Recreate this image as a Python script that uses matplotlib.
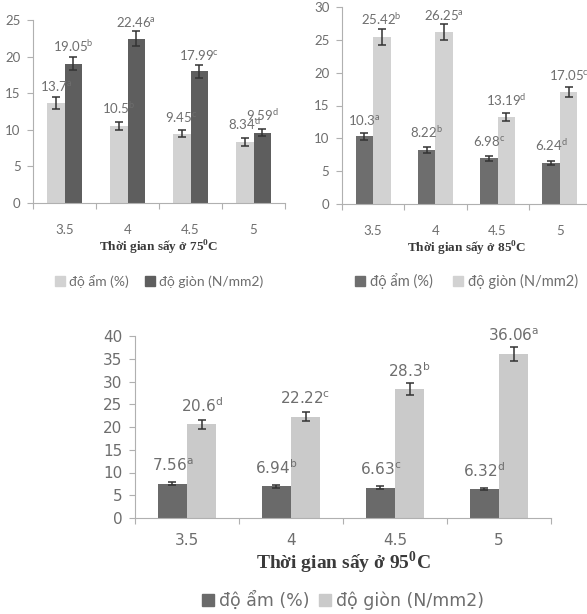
import matplotlib.pyplot as plt
from matplotlib.patches import Patch

# thời gian sấy (h)
times = ['3.5', '4', '4.5', '5']

# 75 oC
am_75 = [13.7, 10.5, 9.45, 8.34]
am_75_err = [0.8, 0.5, 0.5, 0.5]
am_75_sig = ['a', 'b', 'c', 'd']
gion_75 = [19.05, 22.46, 17.99, 9.59]
gion_75_err = [0.9, 1.0, 0.9, 0.5]
gion_75_sig = ['b', 'a', 'c', 'd']

# 85 oC
am_85 = [10.3, 8.22, 6.98, 6.24]
am_85_err = [0.5, 0.4, 0.4, 0.3]
am_85_sig = ['a', 'b', 'c', 'd']
gion_85 = [25.42, 26.25, 13.19, 17.05]
gion_85_err = [1.2, 1.2, 0.6, 0.8]
gion_85_sig = ['b', 'a', 'd', 'c']

# 95 oC
am_95 = [7.56, 6.94, 6.63, 6.32]
am_95_err = [0.4, 0.4, 0.3, 0.2]
am_95_sig = ['a', 'b', 'c', 'd']
gion_95 = [20.6, 22.22, 28.3, 36.06]
gion_95_err = [1.0, 1.0, 1.3, 1.6]
gion_95_sig = ['d', 'c', 'b', 'a']

LIGHT = '#d2d2d2'
DARK = '#6a6a6a'
TXT = '#6e6e6e'
W, H = 587, 614


def px_axes(fig, left, right, y0, ytop):
    return fig.add_axes([left / W, (H - y0) / H, (right - left) / W, (y0 - ytop) / H])


def draw_panel(ax, am, am_err, am_sig, gion, gion_err, gion_sig, am_col, gion_col,
               ymax, ystep, temp, font, fs, legend_y, xpad, lpad, lfs, cspace, xlfs):
    bw = 0.28
    x = range(len(times))
    xa = [i - bw / 2 for i in x]
    xg = [i + bw / 2 for i in x]
    ek = dict(ecolor='#333333', elinewidth=1.1, capsize=3, capthick=1.1)
    ax.bar(xa, am, bw, yerr=am_err, color=am_col, error_kw=ek, zorder=2)
    ax.bar(xg, gion, bw, yerr=gion_err, color=gion_col, error_kw=ek, zorder=2)
    for xs, vals, sigs in ((xa, am, am_sig), (xg, gion, gion_sig)):
        for xi, v, s in zip(xs, vals, sigs):
            ax.annotate(f'{v:g}$^{{\\mathregular{{{s}}}}}$', (xi, v), xytext=(0, 7),
                        textcoords='offset points', ha='center', va='bottom',
                        fontsize=fs, color=TXT, family=font, annotation_clip=False, zorder=5)
    ax.set_xlim(-0.5, len(times) - 0.5)
    ax.set_ylim(0, ymax)
    ax.set_yticks(range(0, ymax + 1, ystep))
    ax.set_xticks([i - 0.5 for i in range(len(times) + 1)])
    ax.set_xticklabels([])
    ax.set_xticks(list(x), minor=True)
    ax.set_xticklabels(times, minor=True)
    ax.tick_params(axis='x', which='major', length=4, color='#b0b0b0')
    ax.tick_params(axis='x', which='minor', length=0, pad=xpad)
    ax.tick_params(axis='y', length=4, color='#b0b0b0', pad=5)
    for lab in ax.get_xticklabels(minor=True) + ax.get_yticklabels():
        lab.set_family(font)
        lab.set_fontsize(fs)
        lab.set_color(TXT)
    for sp in ('top', 'right'):
        ax.spines[sp].set_visible(False)
    for sp in ('left', 'bottom'):
        ax.spines[sp].set_color('#b0b0b0')
    ax.set_xlabel(f'Thời gian sấy ở {temp}$^{{\\mathregular{{0}}}}$C', family='Liberation Serif',
                  fontweight='bold', fontsize=xlfs, color='#3a3a3a', labelpad=lpad)
    handles = [Patch(color=am_col, label='độ ẩm (%)'), Patch(color=gion_col, label='độ giòn (N/mm2)')]
    ax.legend(handles=handles, loc='center', bbox_to_anchor=(0.5, legend_y), ncol=2, frameon=False,
              handlelength=0.7, handleheight=0.7, handletextpad=0.3, columnspacing=cspace,
              prop={'family': font, 'size': lfs}, labelcolor=TXT)


fig = plt.figure(figsize=(W / 100, H / 100), dpi=100)

ax1 = px_axes(fig, 33, 285, 203, 20)
draw_panel(ax1, am_75, am_75_err, am_75_sig, gion_75, gion_75_err, gion_75_sig, LIGHT, '#5e5e5e',
           25, 5, 75, 'Lato', 9.5, -0.43, 15, 2, 10, 1.2, 9.5)

ax2 = px_axes(fig, 342, 591, 204, 7)
draw_panel(ax2, am_85, am_85_err, am_85_sig, gion_85, gion_85_err, gion_85_sig, '#6e6e6e', LIGHT,
           30, 5, 85, 'Lato', 9.5, -0.39, 15, 2, 10.5, 1.4, 9.5)

ax3 = px_axes(fig, 135, 551, 518, 336)
draw_panel(ax3, am_95, am_95_err, am_95_sig, gion_95, gion_95_err, gion_95_sig, DARK, '#cacaca',
           40, 5, 95, 'DejaVu Sans', 11, -0.455, 11, 1, 12.5, 0.5, 14)

fig.savefig('out.png', dpi=100)
